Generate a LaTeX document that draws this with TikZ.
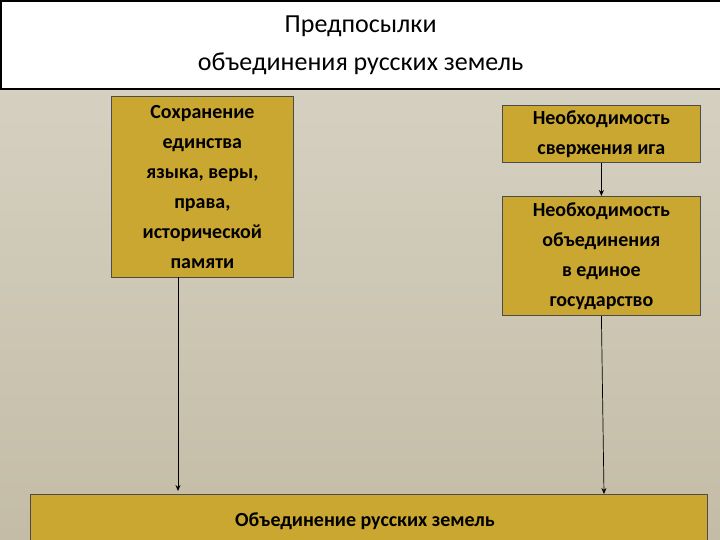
\documentclass[tikz,border=0pt]{standalone}
\usepackage{fontspec}
\setmainfont{Carlito}
\usetikzlibrary{arrows.meta}
\definecolor{bgtop}{RGB}{216,212,198}
\definecolor{bgbot}{RGB}{196,188,166}
\definecolor{boxfill}{RGB}{202,167,48}
\begin{document}
\begin{tikzpicture}[x=1pt,y=-1pt,
  gbox/.style={draw=black!70,fill=boxfill,line width=0.8pt,align=center,font=\fontsize{20}{30}\selectfont\bfseries,inner sep=2pt},
  conn/.style={draw=black,line width=0.7pt,-{Stealth[length=6pt,width=5pt]}}]
\shade[top color=bgtop,bottom color=bgbot] (0,0) rectangle (720,540);
\useasboundingbox (0,0) rectangle (720,540);
\node[draw=black,line width=1.2pt,fill=white,minimum width=719pt,minimum height=88pt,align=center,font=\fontsize{26}{38}\selectfont,anchor=north west] (title) at (0.5,0.5) {Предпосылки\\объединения русских земель};
\node[gbox,minimum width=182pt,minimum height=181pt,anchor=north west] (a) at (111,96) {Сохранение\\единства\\языка, веры,\\права,\\исторической\\памяти};
\node[gbox,minimum width=198pt,minimum height=57pt,anchor=north west] (b) at (502,105) {Необходимость\\свержения ига};
\node[gbox,minimum width=198pt,minimum height=119pt,anchor=north west] (c) at (502,196) {Необходимость\\объединения\\в единое\\государство};
\node[gbox,minimum width=677pt,minimum height=60pt,anchor=north west] (d) at (30,494) {};
\node[font=\fontsize{20}{24}\selectfont\bfseries] (dt) at (365,521) {Объединение русских земель};
\coordinate (a1) at (178,277);
\coordinate (d1) at (178,491);
\coordinate (d2) at (604,494);
\draw[conn] (a1) -- (d1);
\draw[conn] (b.south) -- (c.north);
\draw[conn] (c.south) -- (d2);
\end{tikzpicture}
\end{document}
